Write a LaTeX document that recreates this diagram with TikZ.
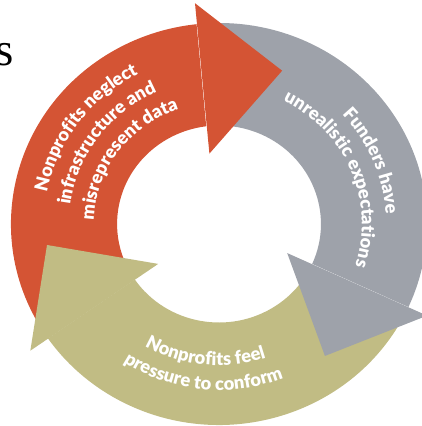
\documentclass[tikz,border=0pt]{standalone}
\usepackage{fontspec}
\IfFontExistsTF{Lato Black}{%
  \newfontfamily\latoblk{Lato Black}\newcommand\latofont{\latoblk}}{%
  \newfontfamily\latoblk{Lato}\newcommand\latofont{\latoblk\bfseries}}
\newfontfamily\tms{Liberation Serif}
\usetikzlibrary{decorations.text}
\definecolor{redA}{HTML}{D45434}
\definecolor{grayA}{HTML}{9EA2AA}
\definecolor{oliveA}{HTML}{C1BC84}
\tikzset{
  arctext/.style={decorate, decoration={text along path, text align=center, text color=white,
     text={|\latofont\fontsize{18.3}{18.3}\selectfont|#1}}}
}
\begin{document}
\begin{tikzpicture}[x=1pt,y=1pt]
\useasboundingbox (-219,-202) rectangle (203,224);
\node[anchor=base west, inner sep=0pt, font=\tms\fontsize{47}{47}\selectfont] (s) at (-223.5,158.5) {s};
\begin{scope}[xscale=1.035]
% bodies
\fill[redA] (211.5:201) arc[start angle=211.5, end angle=96.2, radius=201] -- (97.2:98.5) arc[start angle=97.2, end angle=211.5, radius=98.5] -- cycle;
\fill[grayA] (92:201) arc[start angle=92, end angle=-24.4, radius=201] -- (-23.9:98.5) arc[start angle=-23.9, end angle=92, radius=98.5] -- cycle;
\fill[oliveA] (-27.5:201) arc[start angle=-27.5, end angle=-145.3, radius=201] -- (-145.7:98.5) arc[start angle=-145.7, end angle=-27.5, radius=98.5] -- cycle;
% heads
\fill[redA] (97.5:71) -- (68.3:165) -- (96:222) -- cycle;
\fill[grayA] (-23.8:72) -- (-52.2:167) -- (-24.5:221) -- cycle;
\fill[oliveA] (214.2:71) -- (187.2:167.5) -- (214.8:222) -- cycle;
% texts
\path[arctext={Nonprofits neglect}] (214:169) arc[start angle=214, end angle=74, radius=169];
\path[arctext={infrastructure and}] (214:145) arc[start angle=214, end angle=74, radius=145];
\path[arctext={misrepresent data}] (214:121) arc[start angle=214, end angle=74, radius=121];
\path[arctext={Funders have}] (92.5:161.5) arc[start angle=92.5, end angle=-47.5, radius=161.5];
\path[arctext={unrealistic expectations}] (92.5:138) arc[start angle=92.5, end angle=-47.5, radius=138];
\path[arctext={Nonprofits feel}] (194:141.5) arc[start angle=194, end angle=334, radius=141.5];
\path[arctext={pressure to conform}] (194:166) arc[start angle=194, end angle=334, radius=166];
\end{scope}
\end{tikzpicture}
\end{document}
